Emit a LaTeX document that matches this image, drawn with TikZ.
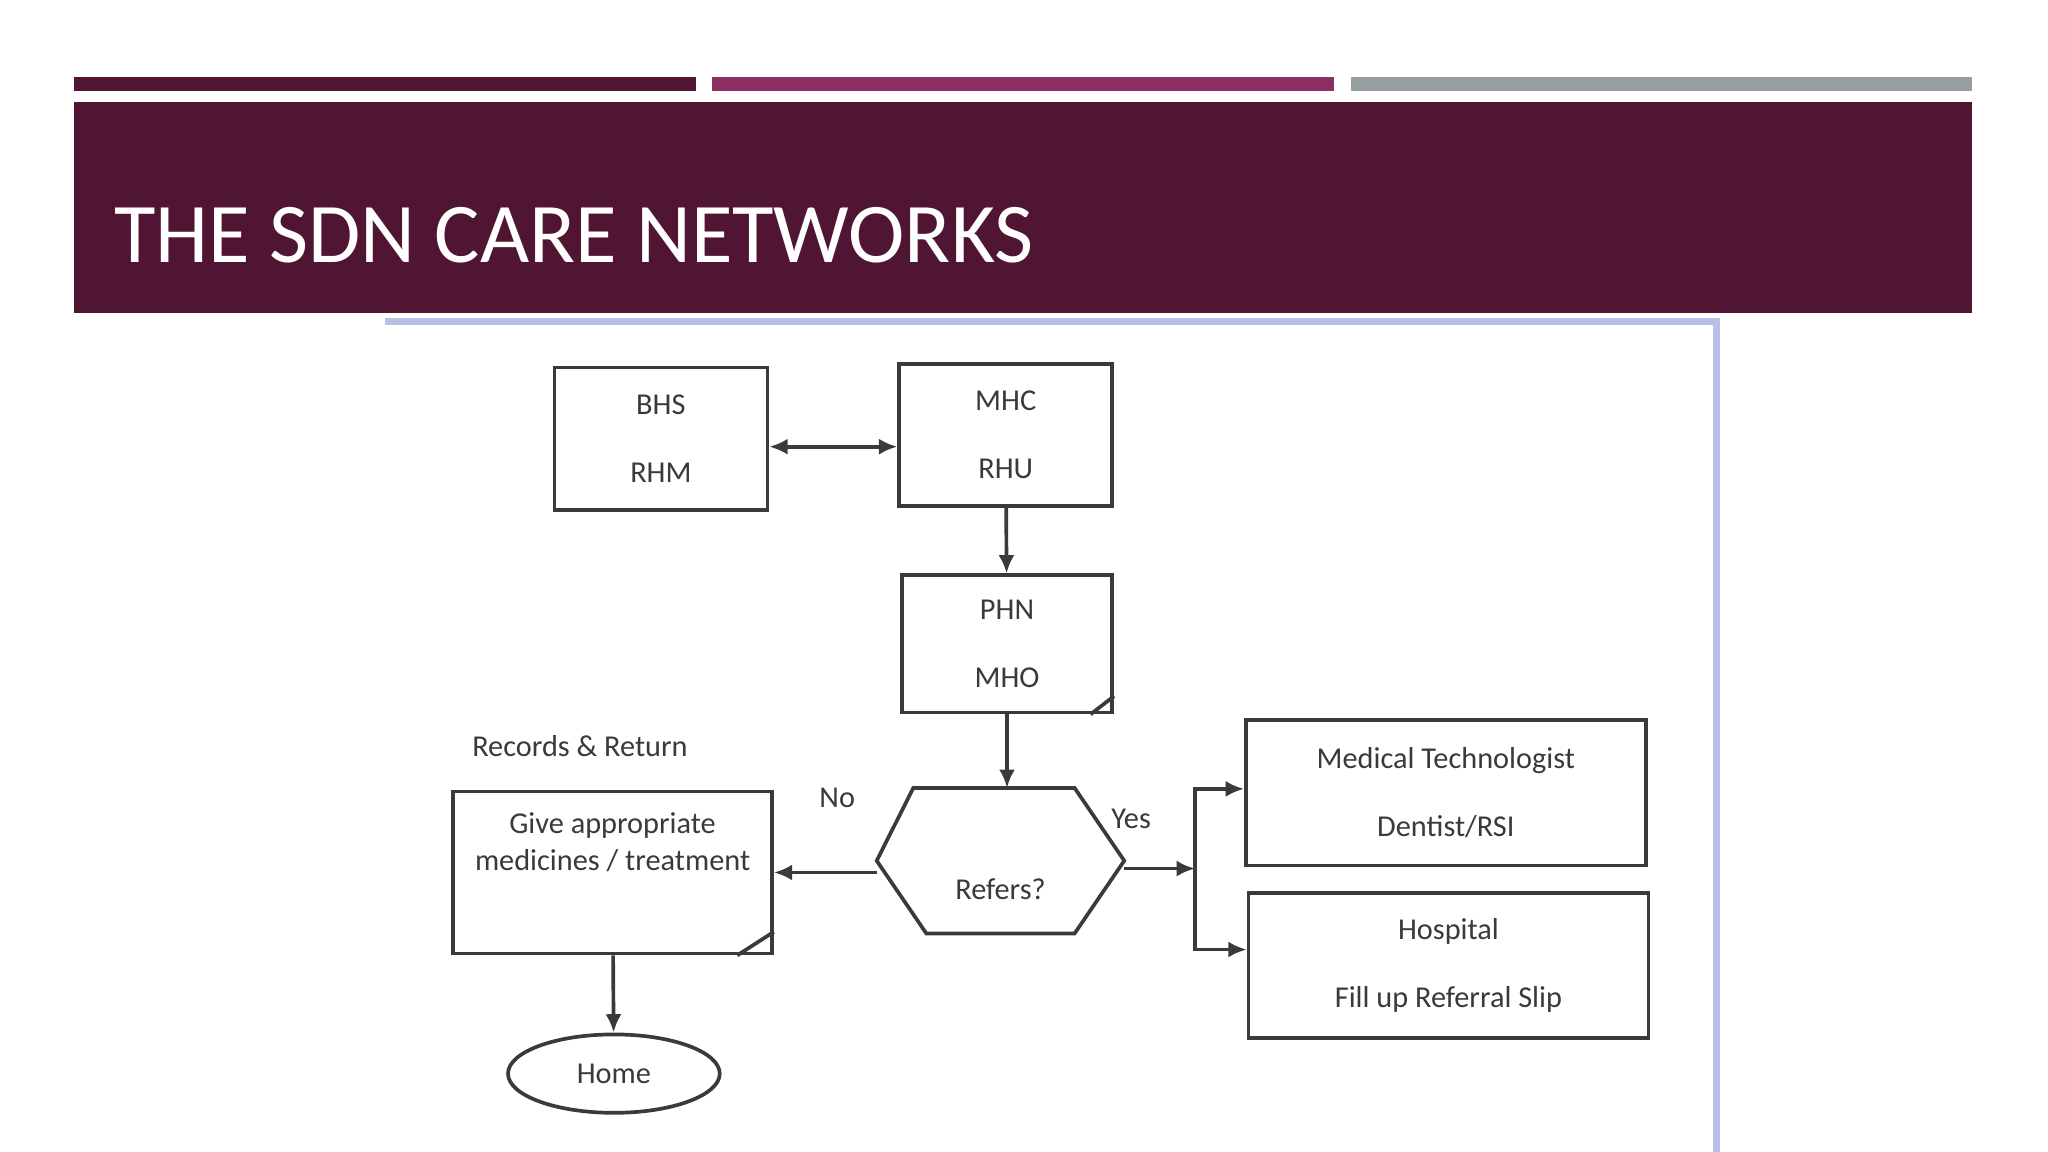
\documentclass[tikz,border=0pt]{standalone}
\usepackage{fontspec}
\setmainfont{Carlito}
\usetikzlibrary{positioning,shapes.geometric,arrows.meta}
\definecolor{wine}{HTML}{4F1532}
\definecolor{berry}{HTML}{8B2F63}
\definecolor{slate}{HTML}{959EA0}
\definecolor{frame}{HTML}{B8C0E8}
\definecolor{ink}{HTML}{3A3A3A}
\tikzset{
  box/.style={draw=ink, thick, rectangle, inner sep=0pt, align=center, text=ink, font=\fontsize{6.6}{8}\selectfont},
  lbl/.style={text=ink, font=\fontsize{6.6}{8}\selectfont},
  flow/.style={draw=ink, thick, -{Latex[length=4pt,width=3.5pt]}}
}
\begin{document}
\begin{tikzpicture}[x=0.01cm, y=-0.01cm]
\useasboundingbox (0,0) rectangle (1568,882);
% bars at the top
\fill[wine] (57,59) rectangle (533,70);
\fill[berry] (545,59) rectangle (1021,70);
\fill[slate] (1034,59) rectangle (1510,70);
% title banner
\fill[wine] (57,78) rectangle (1510,240);
\node[anchor=base west, text=white, font=\fontsize{18.5}{22}\selectfont, inner sep=0pt] (title) at (87,201) {THE SDN CARE NETWORKS};
% scanned frame
\fill[white] (295,245) rectangle (1315,882);
\draw[frame, line width=1.5pt] (295,246) -- (1314,246) -- (1314,882);

% boxes
\node[box, minimum width=1.63cm, minimum height=1.09cm] (bhs) at (506,336) {BHS\\[2.2ex]RHM};
\node[box, minimum width=1.63cm, minimum height=1.09cm] (mhc) at (770,333) {MHC\\[2.2ex]RHU};
\node[box, minimum width=1.61cm, minimum height=1.05cm] (phn) at (771,493) {PHN\\[2.2ex]MHO};
\node[minimum width=1.88cm, minimum height=1.1cm, inner sep=0pt] (refers) at (766,659) {};
\draw[ink, thick] (refers.west) -- ([xshift=0.28cm]refers.north west) -- ([xshift=-0.38cm]refers.north east)
  -- (refers.east) -- ([xshift=-0.38cm]refers.south east) -- ([xshift=0.38cm]refers.south west) -- cycle;
\node[lbl] (refersT) at (766,681) {Refers?};
\node[box, minimum width=2.44cm, minimum height=1.24cm] (give) at (469,668) {};
\node[lbl, align=center] (giveT) at (469,645) {Give appropriate\\medicines / treatment};
\node[box, ellipse, minimum width=1.62cm, minimum height=0.6cm] (home) at (470,822) {Home};
\node[box, minimum width=3.06cm, minimum height=1.11cm] (medt) at (1107,607) {Medical Technologist\\[2.2ex]Dentist/RSI};
\node[box, minimum width=3.06cm, minimum height=1.11cm] (hosp) at (1109,739) {Hospital\\[2.2ex]Fill up Referral Slip};

% folded corners
\draw[ink, thick] ([xshift=-0.18cm]phn.south east) -- ++(18,-14);
\draw[ink, thick] ([xshift=-0.28cm]give.south east) -- ++(28,-18);

% labels
\node[lbl] (recs) at (444,571) {Records \& Return};
\node[lbl] (no) at (641,611) {No};
\node[lbl] (yes) at (866,627) {Yes};

% connectors
\draw[flow, {Latex[length=4pt,width=3.5pt]}-{Latex[length=4pt,width=3.5pt]}] (bhs.east |- 0,342) -- (mhc.west |- 0,342);
\draw[flow] (mhc) -- (phn);
\draw[flow] (phn) -- (refers.north -| phn);
\draw[flow] (refers.west |- 0,668) -- (give.east |- 0,668);
\coordinate (split) at (915,665);
\draw[flow] (refers.east |- split) -- (split);
\draw[flow] (split) |- (medt.west |- 0,604);
\draw[flow] (split) |- (hosp.west |- 0,727);
\draw[flow] (give) -- (home);
\end{tikzpicture}
\end{document}
